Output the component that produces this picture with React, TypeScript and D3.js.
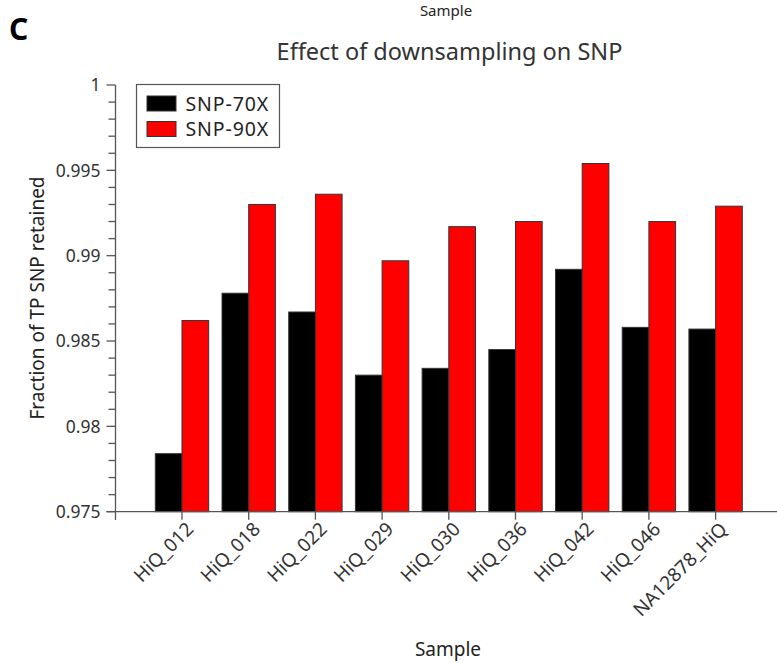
import React from "react";
import * as d3 from "d3";

const samples = [
  "HiQ_012",
  "HiQ_018",
  "HiQ_022",
  "HiQ_029",
  "HiQ_030",
  "HiQ_036",
  "HiQ_042",
  "HiQ_046",
  "NA12878_HiQ",
];
const seriesNames = ["SNP-70X", "SNP-90X"];
const snp70 = [0.9784, 0.9878, 0.9867, 0.983, 0.9834, 0.9845, 0.9892, 0.9858, 0.9857];
const snp90 = [0.9862, 0.993, 0.9936, 0.9897, 0.9917, 0.992, 0.9954, 0.992, 0.9929];
const seriesColors = ["#000000", "#ff0000"];
const yTicks = [0.975, 0.98, 0.985, 0.99, 0.995, 1];
const yTickLabels = ["0.975", "0.98", "0.985", "0.99", "0.995", "1"];

const W = 777;
const H = 663;
const FONT = "'Noto Sans', 'Open Sans', sans-serif";
const TEXT = "#333333";
const AXIS = "#555555";

export default function App() {
  const axisX = 115.5;
  const axisY = 511.7;

  const y = d3.scaleLinear().domain([0.975, 1]).range([axisY, 85]);
  const x = d3
    .scaleBand<string>()
    .domain(samples)
    .range([148.65, 748.95])
    .paddingInner(0.2)
    .paddingOuter(0.1);
  const xs = d3
    .scaleBand<string>()
    .domain(seriesNames)
    .range([0, x.bandwidth()]);

  const values = [snp70, snp90];
  const minorTicks = d3.range(0, 26).map((i) => 0.975 + i * 0.001);
  const center = (s: string) => (x(s) as number) + x.bandwidth() / 2;

  return (
    <svg
      width={W}
      height={H}
      style={{ position: "absolute", left: 0, top: 0, background: "#fff" }}
      fontFamily={FONT}
    >
      {/* axis title of the panel above */}
      <text x={446} y={16} textAnchor="middle" fontSize={15} fill="#222">
        Sample
      </text>

      {/* panel letter */}
      <text x={9} y={40} fontSize={30} fontWeight="bold" fill="#000">
        C
      </text>

      {/* title */}
      <text x={449.5} y={60} textAnchor="middle" fontSize={23.5} fill={TEXT}>
        Effect of downsampling on SNP
      </text>

      {/* bars */}
      {samples.map((s, i) => (
        <g key={s} transform={`translate(${x(s)},0)`}>
          {seriesNames.map((name, k) => (
            <rect
              key={name}
              x={xs(name)}
              y={y(values[k][i])}
              width={xs.bandwidth()}
              height={axisY - y(values[k][i])}
              fill={seriesColors[k]}
              stroke="#333"
              strokeWidth={1}
            />
          ))}
        </g>
      ))}

      {/* y axis */}
      <line x1={axisX} x2={axisX} y1={85} y2={520} stroke={AXIS} strokeWidth={1.3} />
      {minorTicks.map((t, i) => (
        <line
          key={i}
          x1={i % 5 === 0 ? axisX - 9 : axisX - 7}
          x2={axisX}
          y1={y(t)}
          y2={y(t)}
          stroke={AXIS}
          strokeWidth={1.3}
        />
      ))}
      {yTicks.map((t, i) => (
        <text
          key={t}
          x={100.5}
          y={y(t)}
          dy="0.36em"
          textAnchor="end"
          fontSize={17.5}
          fill={TEXT}
        >
          {yTickLabels[i]}
        </text>
      ))}
      <text
        transform={`translate(44,298) rotate(-90)`}
        textAnchor="middle"
        fontSize={19}
        fill="#222"
      >
        Fraction of TP SNP retained
      </text>

      {/* x axis */}
      <line x1={axisX - 9} x2={W} y1={axisY} y2={axisY} stroke={AXIS} strokeWidth={1.3} />
      {samples.map((s) => (
        <g key={s}>
          <line
            x1={center(s)}
            x2={center(s)}
            y1={axisY}
            y2={axisY + 8}
            stroke={AXIS}
            strokeWidth={1.3}
          />
          <text
            transform={`translate(${center(s) + 3},${axisY + 9}) rotate(-45)`}
            textAnchor="end"
            dy="0.72em"
            fontSize={19}
            fill={TEXT}
          >
            {s}
          </text>
        </g>
      ))}
      <text x={448} y={656} textAnchor="middle" fontSize={19} fill="#222">
        Sample
      </text>

      {/* legend */}
      <g>
        <rect x={136.5} y={84.5} width={143} height={63} fill="#fff" stroke={AXIS} strokeWidth={1.2} />
        {seriesNames.map((name, k) => (
          <g key={name} transform={`translate(0,${k * 25.5})`}>
            <rect
              x={147}
              y={96}
              width={29}
              height={15}
              fill={seriesColors[k]}
              stroke="#333"
              strokeWidth={1}
            />
            <text
              x={185.5}
              y={103.5}
              dy="0.36em"
              fontSize={19.5}
              letterSpacing={0.9}
              fill="#222"
            >
              {name}
            </text>
          </g>
        ))}
      </g>
    </svg>
  );
}
